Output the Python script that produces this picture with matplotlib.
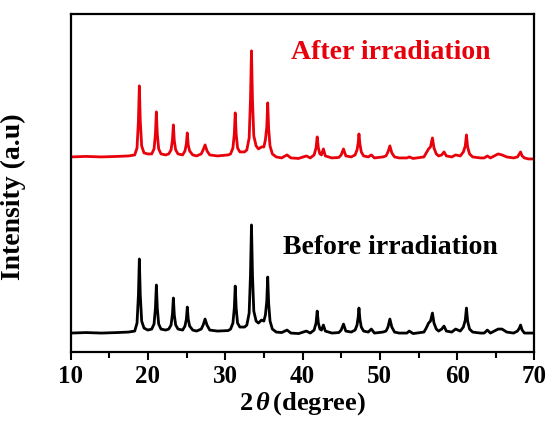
import numpy as np
import matplotlib
matplotlib.use('Agg')
import matplotlib.pyplot as plt
from matplotlib.ticker import MultipleLocator

plt.rcParams['font.family'] = 'Liberation Serif'
plt.rcParams['font.weight'] = 'bold'
plt.rcParams['mathtext.fontset'] = 'custom'
plt.rcParams['mathtext.rm'] = 'Liberation Serif:bold'
plt.rcParams['mathtext.it'] = 'Liberation Serif:italic'
plt.rcParams['mathtext.bf'] = 'Liberation Serif:bold'

# XRD patterns (2theta in degree, intensity in a.u.)
two_theta = [10.0, 12.0, 14.0, 16.0, 17.5, 18.3,
             18.6, 18.78, 18.9, 19.02, 19.2, 19.5, 20.0,
             20.5, 20.8, 20.98, 21.1, 21.22, 21.4, 21.7, 22.3,
             22.7, 23.0, 23.18, 23.3, 23.42, 23.6, 23.9,
             24.5, 24.8, 24.98, 25.1, 25.22, 25.4, 25.8, 26.3,
             26.9, 27.15, 27.4, 27.65, 28.0, 29.0, 30.4,
             30.7, 31.0, 31.18, 31.3, 31.42, 31.6, 31.9, 32.5,
             32.8, 33.1, 33.27, 33.4, 33.53, 33.7, 34.0,
             34.3, 34.7, 35.0,
             35.2, 35.38, 35.5, 35.62, 35.8, 36.1,
             36.6, 37.3, 38.0, 38.5, 39.5, 40.5, 41.0,
             41.5, 41.75, 41.9, 42.05, 42.25, 42.45, 42.7, 42.95,
             43.8, 44.7, 45.0, 45.3, 45.6, 46.3,
             46.8, 47.05, 47.2, 47.3, 47.42, 47.6, 47.9,
             48.5, 48.9, 49.3, 50.4,
             50.8, 51.05, 51.3, 51.55, 51.9,
             52.5, 53.5, 53.8, 54.3, 55.2,
             55.7, 56.0, 56.3, 56.55, 56.8, 57.0, 57.3, 57.6,
             58.0, 58.3, 58.6, 59.3, 59.8,
             60.4, 60.8, 61.05, 61.2, 61.35, 61.6, 62.0,
             63.0, 63.5, 63.9, 64.3, 64.8, 65.3, 65.8, 66.4, 67.3,
             67.8, 68.05, 68.2, 68.4, 68.7, 69.2, 70.0]

intensity_before = [2, 2.5, 2, 2.5, 3, 4,
                    12, 40, 76, 40, 14, 7, 5,
                    6, 11, 27, 50, 27, 11, 6, 5,
                    6, 10, 21, 37, 20, 10, 6,
                    5, 9, 16, 28, 16, 9, 5, 4,
                    6, 10, 16, 10, 5, 4, 4.5,
                    6, 12, 27, 49, 27, 12, 8, 8,
                    10, 22, 60, 110, 60, 24, 14,
                    12, 15, 14,
                    20, 34, 58, 32, 14, 6,
                    3, 2.5, 5, 2, 1.5, 4, 2,
                    5, 12, 24, 12, 6, 5, 10, 4,
                    2, 2.5, 5, 11, 4, 3,
                    5, 10, 18, 27, 16, 8, 4,
                    3, 6, 2, 3,
                    4, 8, 16, 8, 3,
                    2, 2, 4, 1.5, 2.5,
                    3, 7, 12, 14, 22, 12, 6, 4,
                    6, 9, 4, 3, 6,
                    4, 8, 15, 27, 14, 6, 3,
                    2, 2, 5, 2, 4, 6, 6, 3, 2,
                    4, 7, 10, 5, 2, 2, 2]

intensity_after = [3, 3.5, 3, 3.5, 4, 5,
                   12, 39, 74, 39, 14, 7, 6,
                   6, 11, 26, 48, 26, 11, 6, 5,
                   6, 10, 20, 35, 19, 10, 6,
                   5, 9, 16, 27, 15, 9, 5, 4,
                   6, 10, 15, 9, 5, 4, 5,
                   6, 12, 26, 47, 26, 12, 8, 8,
                   10, 22, 60, 109, 60, 24, 14,
                   11, 13, 13,
                   20, 33, 57, 31, 14, 6,
                   3, 2, 5, 2, 1.5, 4, 2,
                   5, 12, 23, 12, 6, 5, 11, 4,
                   2, 2.5, 5, 11, 4, 3,
                   5, 10, 17, 26, 16, 8, 4,
                   3, 5, 2, 3,
                   4, 8, 14, 7, 3,
                   2, 2, 3, 1.5, 2.5,
                   3, 7, 11, 13, 22, 12, 6, 4,
                   5, 8, 4, 3, 5,
                   4, 8, 14, 25, 13, 6, 3,
                   2, 2, 4, 2, 4, 6, 5, 3, 2,
                   3, 6, 8, 4, 2, 1, 1]

offset_before = 17
offset_after = 192

fig = plt.figure(figsize=(5.54, 4.32), dpi=100)
ax = fig.add_axes([0.1273, 0.185, 0.8375, 0.783])

ax.plot(two_theta, np.array(intensity_before) + offset_before,
        '-k', linewidth=2.0)
ax.plot(two_theta, np.array(intensity_after) + offset_after,
        '-', color='#e8000b', linewidth=2.0)

ax.text(0.69, 0.885, 'After irradiation', color='#e8000b', fontsize=20,
        fontweight='bold', ha='center', va='center', transform=ax.transAxes)
ax.text(0.69, 0.31, 'Before irradiation', color='black', fontsize=20,
        fontweight='bold', ha='center', va='center', transform=ax.transAxes)

ax.set_xlim(10, 70)
ax.set_ylim(0, 338)
ax.xaxis.set_major_locator(MultipleLocator(10))
ax.xaxis.set_minor_locator(MultipleLocator(5))
ax.tick_params(axis='x', which='major', direction='out', length=6, width=1.5,
               labelsize=18, pad=3)
ax.tick_params(axis='x', which='minor', direction='out', length=4, width=1.5)
ax.tick_params(axis='y', left=False, labelleft=False)
for sp in ax.spines.values():
    sp.set_linewidth(1.6)

ax.set_xlabel(r'2$\,\theta\,$(degree)', fontsize=19, fontweight='bold', labelpad=2)
ax.set_ylabel('Intensity (a.u)', fontsize=20, fontweight='bold')
ax.yaxis.set_label_coords(-0.095, 0.46)

fig.savefig('out.png', dpi=100)
